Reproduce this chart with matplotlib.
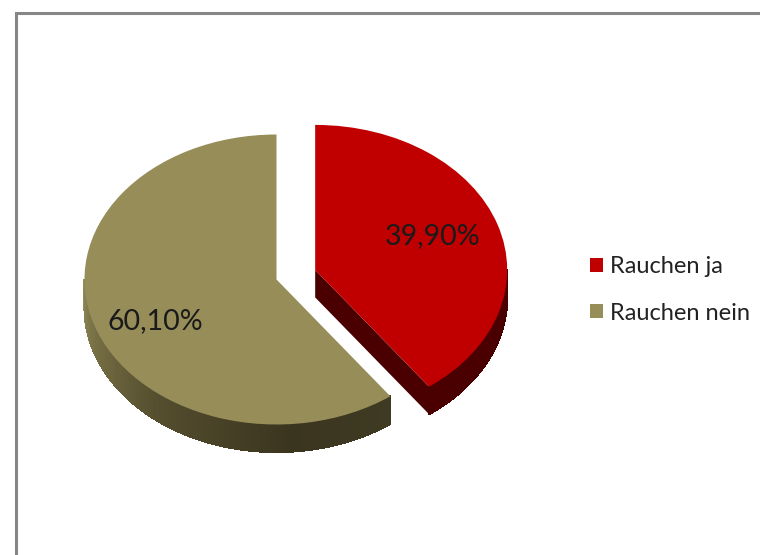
import numpy as np
import matplotlib
matplotlib.use('Agg')
from matplotlib import pyplot as plt
from matplotlib.collections import PolyCollection
from matplotlib.colors import LinearSegmentedColormap

plt.rcParams['font.family'] = ['Lato', 'DejaVu Sans']

labels = ['Rauchen ja', 'Rauchen nein']
values = [39.9, 60.1]
explode = [0.212, 0]
colors = ['#c00000', '#968d59']

W, H = 760, 555
RX, RY = 192.0, 145.0      # pie ellipse radius in pixels
DEPTH = 27.5 / RY


def px(x, y):
    return x / RX, (H - y) / RY


fig = plt.figure(figsize=(W / 100, H / 100), dpi=100)
ax = fig.add_axes([0, 0, 1, 1])
cx, cy = px(276.5, 279.5)

wedges, texts, pcts = ax.pie(values, colors=colors, explode=explode, startangle=90,
                             counterclock=False, center=(cx, cy), radius=1,
                             autopct=lambda p: f'{p:.2f}%'.replace('.', ','),
                             textprops={'fontsize': 20.5, 'color': '#1a1a1a'})
for w in wedges:
    w.set_zorder(3)
pcts[0].set_position(px(433, 236.5))
pcts[1].set_position(px(155, 321))
for t in pcts:
    t.set_zorder(4)

# pie() forces equal aspect, the tilted look needs the ellipse
ax.set_aspect('auto')
ax.set_xlim(0, W / RX)
ax.set_ylim(0, H / RY)
ax.axis('off')

# thickness of the slices
split = 90 - values[0] / sum(values) * 360
mid = np.radians((90 + split) / 2)
rcx = cx + explode[0] * np.cos(mid)
rcy = cy + explode[0] * np.sin(mid)


def side_polys(x0, y0, a0, a1, n=150):
    ang = np.radians(np.linspace(a0, a1, n))
    polys = []
    for a, b in zip(ang[:-1], ang[1:]):
        polys.append([(x0 + np.cos(a), y0 + np.sin(a)),
                      (x0 + np.cos(b), y0 + np.sin(b)),
                      (x0 + np.cos(b), y0 + np.sin(b) - DEPTH),
                      (x0 + np.cos(a), y0 + np.sin(a) - DEPTH)])
    return polys


side_cmap = LinearSegmentedColormap.from_list(
    'side', [(0, '#938b57'), (0.12, '#7c7548'), (0.42, '#544d2e'),
             (0.75, '#3b3520'), (1, '#3f3a22')])
olive = side_polys(cx, cy, 180, 360 + split, 220)
t = np.linspace(0, 1, len(olive))
ax.add_collection(PolyCollection(olive, facecolors=side_cmap(t), edgecolors=side_cmap(t),
                                 linewidths=0.8, antialiaseds=False, zorder=2))

dark_red = '#4a0000'
ax.add_collection(PolyCollection(side_polys(rcx, rcy, split, 0), facecolors=dark_red,
                                 edgecolors=dark_red, linewidths=0.8, antialiaseds=False,
                                 zorder=2))
tx = rcx + np.cos(np.radians(split))
ty = rcy + np.sin(np.radians(split))
ax.fill([rcx, tx, tx, rcx], [rcy, ty, ty - DEPTH, rcy - DEPTH], color=dark_red, lw=0, zorder=2)

# chart border, only left and top are inside the picture
fx, fy = zip(px(15.5, H + 5), px(15.5, 12.5), px(W + 5, 12.5))
ax.plot(fx, fy, color='#868686', lw=2.2, solid_joinstyle='miter', zorder=1)

leg = ax.legend(wedges, labels, loc='upper left', bbox_to_anchor=(0.776, 0.538), frameon=False,
                fontsize=17, labelcolor='#222222', handlelength=0.55, handleheight=0.55,
                handletextpad=0.32, labelspacing=1.07, borderpad=0, borderaxespad=0)

fig.savefig('out.png', dpi=100, facecolor='white')
